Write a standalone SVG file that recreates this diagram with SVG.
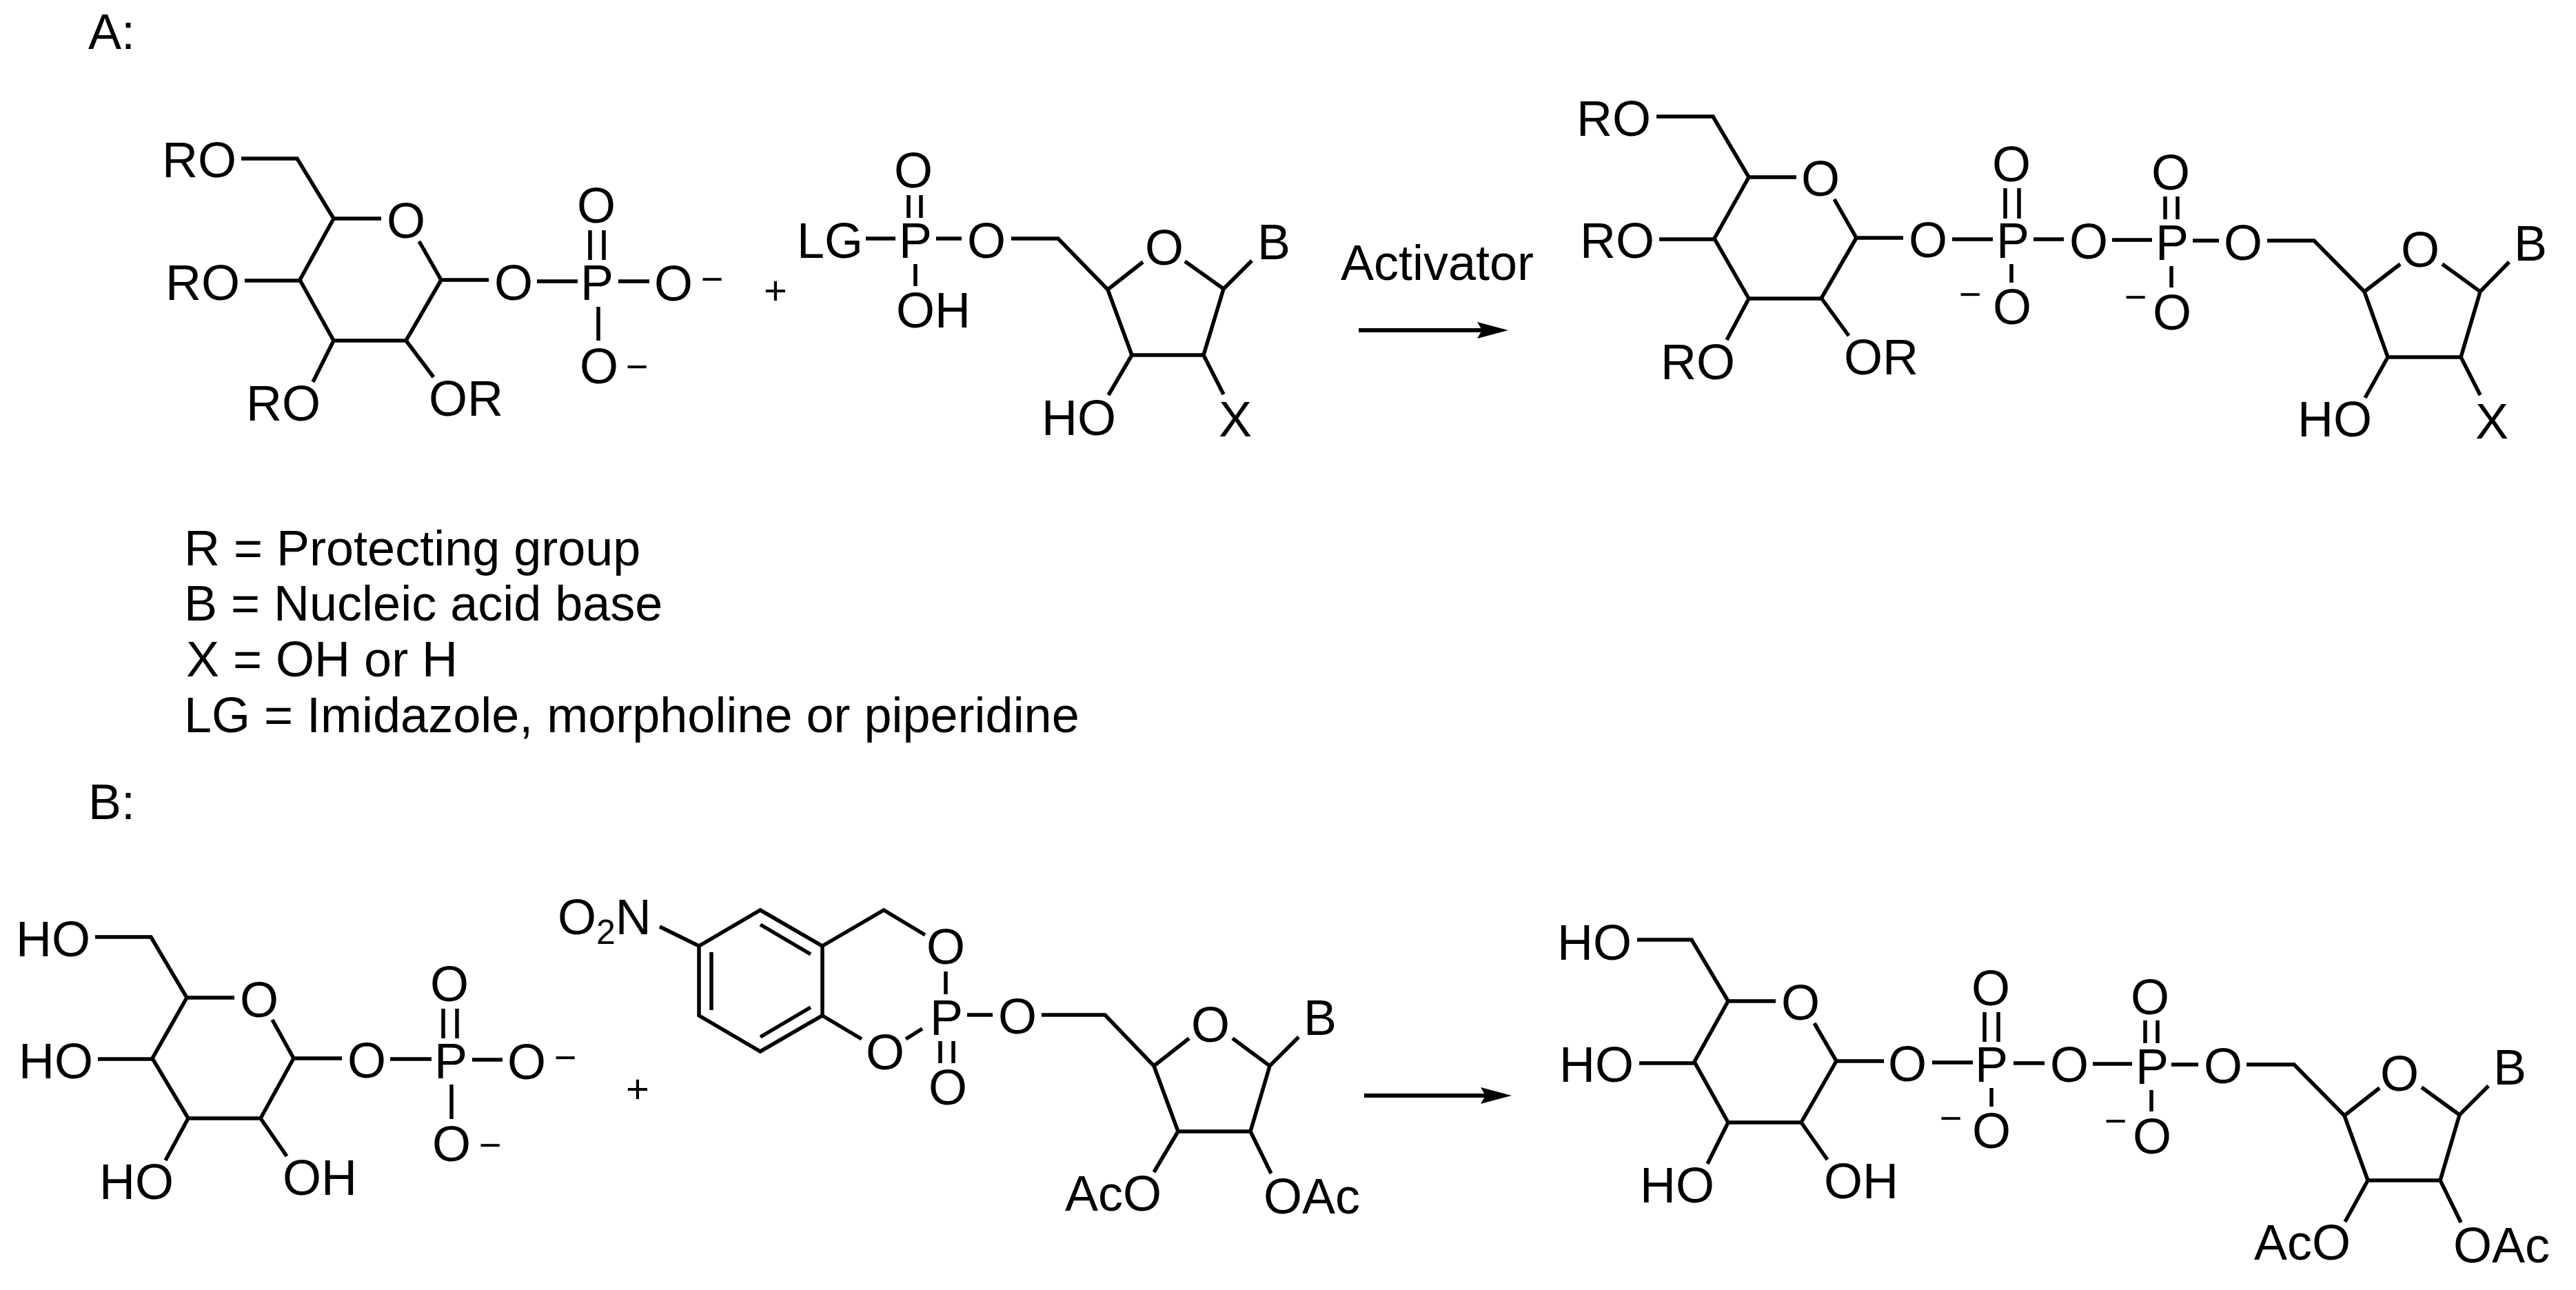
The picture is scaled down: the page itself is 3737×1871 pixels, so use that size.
<svg xmlns="http://www.w3.org/2000/svg" width="3737" height="1871" viewBox="0 0 3737 1871">
<style>
text{font-family:"Liberation Sans",Arial,sans-serif;font-size:72px;fill:#000}
.c{text-anchor:middle}
.m{font-size:56px;text-anchor:middle}
.p{font-size:58px;text-anchor:middle}
#connectors path{fill:none;stroke:#000;stroke-width:5.5;stroke-linecap:butt;stroke-linejoin:miter}
#connectors line{stroke:#000;stroke-width:6}
</style>
<defs>
<marker id="head" markerUnits="userSpaceOnUse" markerWidth="46" markerHeight="26" refX="15" refY="12" orient="auto" overflow="visible">
<path d="M0,0 L45,12 L0,24 L7,12 Z" fill="#000"/>
</marker>
</defs>
<rect width="3737" height="1871" fill="#fff"/>
<g id="connectors">
<!-- A: sugar phosphate -->
<path d="M350,230H431L484,317H553M608,350L640,406H709M484,317L435,406L484,494H589L640,406M355,407H435M484,494L454,554M589,494L629,547M779,408H838M897,408H942M856,334V377M876,334V377M868,445V494"/>
<!-- A: activated nucleotide -->
<path d="M1256,346H1299M1318,283V316M1336,283V316M1328,383V415M1358,346H1395M1467,346H1535L1607,420L1658,380M1719,379L1775,419L1816,378M1607,420L1642,515H1746L1775,419M1642,515L1608,573M1746,515L1775,572"/>
<!-- A: product -->
<path d="M2403,169H2485L2537,257H2606M2661,289L2693,345H2761M2537,257L2487,346L2537,433H2642L2693,345M2407,347H2487M2537,433L2505,493M2642,432L2682,487M2832,347H2891M2909,273V317M2929,273V317M2918,383V410M2950,347H2994M3064,348H3122M3141,285V318M3159,285V318M3150,386V417M3181,349H3219M3289,349H3357L3430,423L3482,383M3543,383L3598,423L3640,380M3430,423L3464,518H3570L3598,423M3464,518L3431,577M3570,518L3598,573"/>
<!-- B: sugar phosphate -->
<path d="M138,1359H219L271,1447H340M395,1479L426,1535H496M271,1447L221,1535L273,1622H378L426,1535M142,1536H221M273,1622L240,1683M378,1622L416,1677M566,1536H626M643,1463V1506M663,1463V1506M655,1573V1623M685,1537H729"/>
<!-- B: cyclic phosphate nucleotide -->
<path d="M957,1344L1014,1372M1014,1372L1103,1320L1193,1372V1473L1103,1525L1014,1473ZM1032,1381V1465M1103,1341L1176,1384M1176,1461L1103,1504M1193,1372L1282,1320L1342,1356M1372,1409V1442M1193,1473L1250,1507M1314,1507L1338,1492M1364,1510V1542M1383,1510V1542M1403,1472H1440M1511,1472H1603L1674,1546L1725,1506M1788,1506L1842,1546L1884,1504M1674,1546L1709,1641H1814L1842,1546M1709,1641L1674,1700M1814,1641L1844,1702"/>
<!-- B: product -->
<path d="M2375,1363H2454L2507,1452H2576M2632,1484L2664,1539H2733M2507,1452L2458,1540L2507,1628H2613L2664,1539M2378,1542H2458M2507,1628L2477,1688M2613,1628L2651,1682M2803,1541H2862M2879,1468V1511M2899,1468V1511M2889,1578V1605M2921,1542H2966M3036,1543H3093M3112,1480V1513M3130,1480V1513M3121,1581V1612M3150,1544H3189M3259,1544H3328L3401,1618L3452,1578M3513,1577L3568,1617L3610,1575M3401,1618L3435,1712H3540L3568,1617M3435,1712L3402,1772M3540,1712L3570,1773"/>
<!-- reaction arrows -->
<line x1="1971" y1="479" x2="2158" y2="479" marker-end="url(#head)"/>
<line x1="1979" y1="1589" x2="2163" y2="1589" marker-end="url(#head)"/>
</g>
<g id="panel-labels">
<text x="128" y="71">A:</text>
<text x="128" y="1188">B:</text>
</g>
<g id="legend">
<text x="267" y="820">R = Protecting group</text>
<text x="267" y="900">B = Nucleic acid base</text>
<text x="270" y="981">X = OH or H</text>
<text x="267" y="1062">LG = Imidazole, morpholine or piperidine</text>
</g>
<g id="activator"><text x="1945" y="406">Activator</text></g>
<g id="mol-a-sugar-phosphate">
<text x="235" y="257">RO</text><text x="240" y="435">RO</text><text x="357" y="610">RO</text><text x="622" y="603">OR</text>
<text class="c" x="589" y="345">O</text><text class="c" x="745" y="435">O</text><text class="c" x="866" y="435">P</text><text class="c" x="977" y="436">O</text><text class="c" x="865" y="323">O</text><text class="c" x="869" y="556">O</text>
<text class="m" x="1033" y="424">−</text><text class="m" x="924" y="551">−</text>
</g>
<g id="plus-a"><text class="p" x="1125" y="441">+</text></g>
<g id="mol-a-nucleotide">
<text x="1156" y="374">LG</text><text class="c" x="1328" y="374">P</text><text class="c" x="1325" y="272">O</text><text x="1300" y="475">OH</text><text class="c" x="1431" y="374">O</text><text class="c" x="1689" y="384">O</text><text class="c" x="1848" y="376">B</text><text x="1511" y="631">HO</text><text class="c" x="1792" y="633">X</text>
</g>
<g id="mol-a-product">
<text x="2287" y="197">RO</text><text x="2292" y="374">RO</text><text x="2409" y="550">RO</text><text x="2675" y="543">OR</text>
<text class="c" x="2641" y="284">O</text><text class="c" x="2797" y="373">O</text><text class="c" x="2920" y="374">P</text><text class="c" x="2918" y="263">O</text><text class="c" x="2919" y="470">O</text><text class="c" x="3030" y="375">O</text><text class="c" x="3151" y="377">P</text><text class="c" x="3149" y="275">O</text><text class="c" x="3151" y="478">O</text><text class="c" x="3254" y="377">O</text><text class="c" x="3511" y="387">O</text><text class="c" x="3671" y="378">B</text><text x="3333" y="633">HO</text><text class="c" x="3615" y="636">X</text>
<text class="m" x="2858" y="446">−</text><text class="m" x="3098" y="450">−</text>
</g>
<g id="mol-b-sugar-phosphate">
<text x="23" y="1387">HO</text><text x="27" y="1564">HO</text><text x="144" y="1739">HO</text><text x="410" y="1733">OH</text>
<text class="c" x="376" y="1475">O</text><text class="c" x="532" y="1563">O</text><text class="c" x="654" y="1564">P</text><text class="c" x="652" y="1452">O</text><text class="c" x="655" y="1684">O</text><text class="c" x="764" y="1565">O</text>
<text class="m" x="820" y="1553">−</text><text class="m" x="711" y="1680">−</text>
</g>
<g id="plus-b"><text class="p" x="925" y="1599">+</text></g>
<g id="mol-b-nucleotide">
<text x="809" y="1355">O<tspan font-size="50" y="1369">2</tspan><tspan y="1355">N</tspan></text>
<text class="c" x="1372" y="1398">O</text><text class="c" x="1373" y="1501">P</text><text class="c" x="1284" y="1551">O</text><text class="c" x="1375" y="1602">O</text><text class="c" x="1476" y="1499">O</text><text class="c" x="1756" y="1511">O</text><text class="c" x="1915" y="1501">B</text><text x="1545" y="1756">AcO</text><text x="1833" y="1760">OAc</text>
</g>
<g id="mol-b-product">
<text x="2259" y="1392">HO</text><text x="2262" y="1569">HO</text><text x="2379" y="1744">HO</text><text x="2646" y="1738">OH</text>
<text class="c" x="2612" y="1479">O</text><text class="c" x="2767" y="1568">O</text><text class="c" x="2889" y="1569">P</text><text class="c" x="2888" y="1458">O</text><text class="c" x="2889" y="1665">O</text><text class="c" x="3002" y="1569">O</text><text class="c" x="3122" y="1572">P</text><text class="c" x="3119" y="1471">O</text><text class="c" x="3122" y="1673">O</text><text class="c" x="3225" y="1571">O</text><text class="c" x="3481" y="1582">O</text><text class="c" x="3641" y="1573">B</text><text x="3270" y="1827">AcO</text><text x="3559" y="1831">OAc</text>
<text class="m" x="2830" y="1641">−</text><text class="m" x="3069" y="1645">−</text>
</g>
</svg>
